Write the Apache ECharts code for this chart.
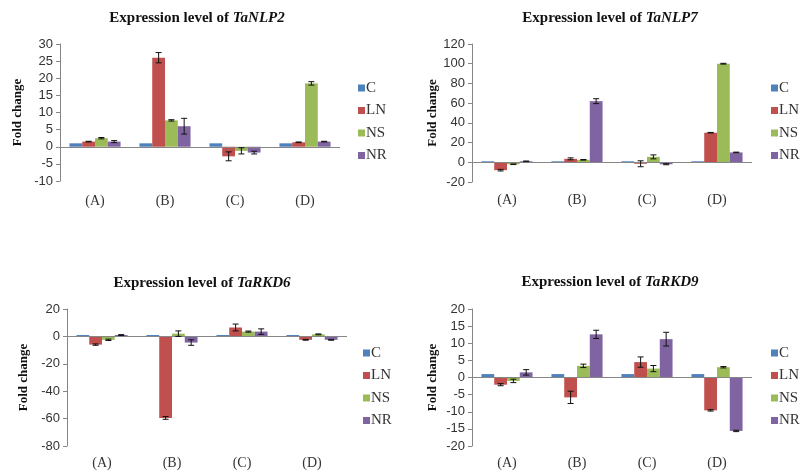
<!DOCTYPE html>
<html>
<head>
<meta charset="utf-8">
<script src="https://cdn.jsdelivr.net/npm/echarts@6/dist/echarts.min.js"></script>
<style>
html,body{margin:0;padding:0;background:#fff;}
#chart{width:801px;height:473px;}
</style>
</head>
<body>
<div id="chart"></div>
<script>
// ---- data ----
const categories = ['(A)', '(B)', '(C)', '(D)'];
const seriesNames = ['C', 'LN', 'NS', 'NR'];
const genes = ['TaNLP2', 'TaNLP7', 'TaRKD6', 'TaRKD9'];

const nlp2_C  = [1, 1, 1, 1];
const nlp2_LN = [1.5, 26, -2.8, 1.3];
const nlp2_NS = [2.5, 7.7, -1.2, 18.5];
const nlp2_NR = [1.5, 6, -1.7, 1.5];
const nlp2_C_err  = [0, 0, 0, 0];
const nlp2_LN_err = [0.1, 1.5, 1.3, 0.1];
const nlp2_NS_err = [0.2, 0.2, 0.9, 0.5];
const nlp2_NR_err = [0.3, 2.3, 0.4, 0.1];

const nlp7_C  = [1, 1, 1, 1];
const nlp7_LN = [-8, 3.5, -1.5, 30];
const nlp7_NS = [-2, 2.5, 5.5, 100];
const nlp7_NR = [1, 62, -2, 10];
const nlp7_C_err  = [0, 0, 0, 0];
const nlp7_LN_err = [0.8, 1, 3, 0.3];
const nlp7_NS_err = [0.3, 0.3, 2, 0.4];
const nlp7_NR_err = [0.3, 2.5, 0.5, 0.3];

const rkd6_C  = [1, 1, 1, 1];
const rkd6_LN = [-6, -59.5, 6.5, -2.5];
const rkd6_NS = [-2.5, 2, 3.5, 1.5];
const rkd6_NR = [1, -4.5, 3.5, -2.5];
const rkd6_C_err  = [0, 0, 0, 0];
const rkd6_LN_err = [0.5, 1, 2.5, 0.3];
const rkd6_NS_err = [0.5, 2, 0.4, 0.3];
const rkd6_NR_err = [0.3, 2, 2, 0.3];

const rkd9_C  = [1, 1, 1, 1];
const rkd9_LN = [-2.1, -5.8, 4.5, -9.6];
const rkd9_NS = [-1, 3.4, 2.6, 3];
const rkd9_NR = [1.5, 12.6, 11.2, -15.6];
const rkd9_C_err  = [0, 0, 0, 0];
const rkd9_LN_err = [0.3, 1.8, 1.5, 0.2];
const rkd9_NS_err = [0.5, 0.5, 0.9, 0.2];
const rkd9_NR_err = [0.8, 1.2, 2, 0.2];

const yMin = [-10, -20, -80, -20];
const yMax = [30, 120, 20, 20];
const yInterval = [5, 20, 20, 5];

const panelValues = [
  [nlp2_C, nlp2_LN, nlp2_NS, nlp2_NR],
  [nlp7_C, nlp7_LN, nlp7_NS, nlp7_NR],
  [rkd6_C, rkd6_LN, rkd6_NS, rkd6_NR],
  [rkd9_C, rkd9_LN, rkd9_NS, rkd9_NR]
];
const panelErrors = [
  [nlp2_C_err, nlp2_LN_err, nlp2_NS_err, nlp2_NR_err],
  [nlp7_C_err, nlp7_LN_err, nlp7_NS_err, nlp7_NR_err],
  [rkd6_C_err, rkd6_LN_err, rkd6_NS_err, rkd6_NR_err],
  [rkd9_C_err, rkd9_LN_err, rkd9_NS_err, rkd9_NR_err]
];

// ---- layout / style ----
const colors = ['#4F81BD', '#C0504D', '#9BBB59', '#8064A2'];
const grids = [
  {left: 60, top: 44, width: 280, height: 137},
  {left: 472, top: 44, width: 280, height: 138},
  {left: 67, top: 309, width: 280, height: 137},
  {left: 472, top: 309, width: 280, height: 137}
];
const titlePos = [[197, 11], [610, 11], [202, 276], [610, 275]];
const nameGaps = [36, 33, 37, 33];
const labelMargins = [13, 11, 10, 10];
const legendPos = [[358, 80.5], [771, 80.5], [363, 345.5], [771, 345.5]];
const CAT_GAP = 0.27;
const serif = '"Liberation Serif", "Times New Roman", serif';
const sans = '"Liberation Sans", Arial, sans-serif';

const option = {
  animation: false,
  backgroundColor: '#fff',
  title: genes.map((g, p) => ({
    text: 'Expression level of {i|' + g + '}',
    left: titlePos[p][0], top: titlePos[p][1],
    textAlign: 'center',
    padding: 0,
    textStyle: {
      fontFamily: serif, fontSize: 15, fontWeight: 'bold', color: '#111',
      rich: {i: {fontFamily: serif, fontSize: 15, fontWeight: 'bold', fontStyle: 'italic', color: '#111'}}
    }
  })),
  legend: legendPos.map((lp, p) => ({
    orient: 'vertical', left: lp[0], top: lp[1], padding: 0,
    itemWidth: 7, itemHeight: 7, itemGap: 7.5,
    icon: 'rect',
    data: seriesNames,
    selectedMode: false,
    textStyle: {fontFamily: serif, fontSize: 15, lineHeight: 15, color: '#333', padding: [0, 0, 0, -4]}
  })),
  grid: grids.map(g => Object.assign({containLabel: false}, g)),
  xAxis: grids.map((g, p) => ({
    type: 'category', gridIndex: p, data: categories,
    axisLine: {show: false, onZero: false},
    axisTick: {show: false},
    axisLabel: {fontFamily: serif, fontSize: 14, color: '#333', margin: labelMargins[p]},
    splitLine: {show: false}
  })),
  yAxis: grids.map((g, p) => ({
    type: 'value', gridIndex: p,
    min: yMin[p], max: yMax[p], interval: yInterval[p],
    name: 'Fold change', nameLocation: 'middle', nameGap: nameGaps[p],
    nameTextStyle: {fontFamily: serif, fontSize: 13, fontWeight: 'bold', color: '#111'},
    axisLine: {show: true, lineStyle: {color: '#868686', width: 1}},
    axisTick: {show: true, length: 4, lineStyle: {color: '#868686'}},
    axisLabel: {fontFamily: sans, fontSize: 13, color: '#333', margin: 7},
    splitLine: {show: false}
  })),
  series: []
};

panelValues.forEach((vals, p) => {
  vals.forEach((arr, s) => {
    const ser = {
      name: seriesNames[s], type: 'bar',
      xAxisIndex: p, yAxisIndex: p,
      data: arr,
      barGap: '0%', barCategoryGap: (CAT_GAP * 100) + '%',
      itemStyle: {color: colors[s]},
      silent: true
    };
    if (s === 0) {
      ser.markLine = {
        silent: true, symbol: 'none', label: {show: false},
        lineStyle: {color: '#868686', width: 1, type: 'solid'},
        data: [{yAxis: 0}],
        z: 5
      };
    }
    option.series.push(ser);
  });
  vals.forEach((arr, s) => {
    const errs = panelErrors[p][s];
    option.series.push({
      type: 'custom', xAxisIndex: p, yAxisIndex: p, silent: true, z: 10,
      data: arr.map((v, i) => [i, v, errs[i]]),
      renderItem: function (params, api) {
        const ci = api.value(0), v = api.value(1), e = api.value(2);
        if (!e) return null;
        const band = api.size([1, 0])[0];
        const total = band * (1 - CAT_GAP);
        const bw = total / 4;
        const off = -total / 2 + bw * (s + 0.5);
        const x = api.coord([ci, v])[0] + off;
        const y1 = api.coord([ci, v + e])[1];
        const y2 = api.coord([ci, v - e])[1];
        const cap = 3;
        const st = {stroke: '#111', lineWidth: 1};
        return {
          type: 'group',
          children: [
            {type: 'line', shape: {x1: x, y1: y1, x2: x, y2: y2}, style: st},
            {type: 'line', shape: {x1: x - cap, y1: y1, x2: x + cap, y2: y1}, style: st},
            {type: 'line', shape: {x1: x - cap, y1: y2, x2: x + cap, y2: y2}, style: st}
          ]
        };
      }
    });
  });
});

const chart = echarts.init(document.getElementById('chart'), null, {renderer: 'canvas'});
chart.setOption(option);
</script>
</body>
</html>
